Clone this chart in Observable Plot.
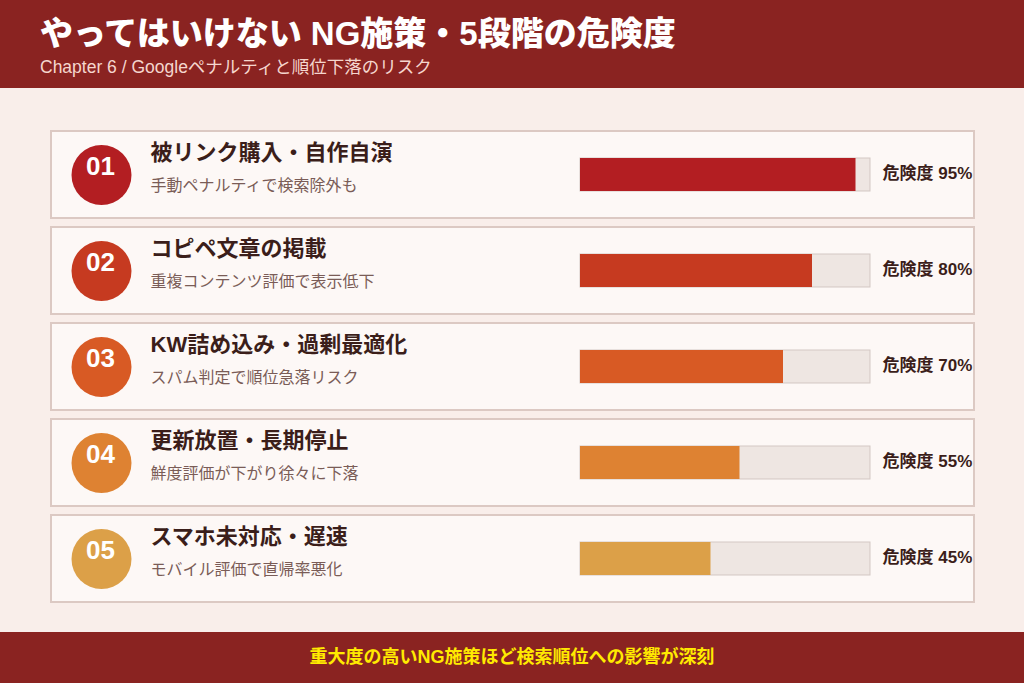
<!DOCTYPE html>
<html lang="ja">
<head>
<meta charset="utf-8">
<script src="https://cdn.jsdelivr.net/npm/d3@7"></script>
<script src="https://cdn.jsdelivr.net/npm/@observablehq/plot@0.6"></script>
<style>
  html, body { margin: 0; padding: 0; }
  body { width: 1024px; height: 683px; overflow: hidden; background: #F9EEEA;
         font-family: "Liberation Sans", "Noto Sans CJK JP", sans-serif; }
  #header { height: 88px; background: #8A2321; position: relative; }
  #header h1 { position: absolute; left: 40px; top: 14px; margin: 0; font-size: 33px; font-weight: 900;
               color: #fff; line-height: 40px; letter-spacing: 0; white-space: nowrap; }
  #header .sub { position: absolute; left: 40px; top: 57px; font-size: 17.5px; color: #F5D6CE; line-height: 20px; white-space: nowrap; }
  #chart { height: 544px; }
  #footer { height: 51px; background: #8A2321; color: #FFEA00; font-weight: 700; font-size: 18px;
            text-align: center; line-height: 50px; }
</style>
</head>
<body>
<div id="header">
  <h1>やってはいけない NG施策・5段階の危険度</h1>
  <div class="sub">Chapter 6 / Googleペナルティと順位下落のリスク</div>
</div>
<div id="chart"></div>
<div id="footer">重大度の高いNG施策ほど検索順位への影響が深刻</div>
<script>
const ids = ["01", "02", "03", "04", "05"];
const titles = ["被リンク購入・自作自演", "コピペ文章の掲載", "KW詰め込み・過剰最適化", "更新放置・長期停止", "スマホ未対応・遅速"];
const notes = ["手動ペナルティで検索除外も", "重複コンテンツ評価で表示低下", "スパム判定で順位急落リスク", "鮮度評価が下がり徐々に下落", "モバイル評価で直帰率悪化"];
const risks = [95, 80, 70, 55, 45];
const colors = ["#B31E22", "#C63A20", "#D85A24", "#DE8232", "#DCA048"];
const scaleMax = 100;

const rows = ids.map((id, i) => ({id, title: titles[i], note: notes[i], risk: risks[i], color: colors[i]}));

const font = "'Liberation Sans', 'Noto Sans CJK JP', sans-serif";
const plot = Plot.plot({
  width: 1024,
  height: 544,
  marginTop: 43,
  marginBottom: 30,
  marginLeft: 0,
  marginRight: 0,
  style: {background: "transparent", fontFamily: font},
  x: {domain: [0, scaleMax], range: [580, 870], axis: null},
  y: {type: "band", domain: ids, paddingInner: 9 / 96, paddingOuter: 0, axis: null},
  color: {type: "identity"},
  marks: [
    Plot.cell(rows, {y: "id", fill: "#FDF8F6", stroke: "#DCC9C3", strokeWidth: 2, insetLeft: 51, insetRight: 50}),
    Plot.barX(rows, {y: "id", x1: 0, x2: scaleMax, fill: "#EEE6E2", stroke: "#D3C7C3", strokeWidth: 1, insetTop: 27, insetBottom: 27}),
    Plot.barX(rows, {y: "id", x1: 0, x2: "risk", fill: "color", insetTop: 27, insetBottom: 27}),
    Plot.dot(rows, {y: "id", frameAnchor: "left", dx: 101, r: 30, fill: "color", stroke: null}),
    Plot.text(rows, {y: "id", frameAnchor: "left", dx: 100, dy: -8, text: "id", fill: "#fff",
      fontSize: 26, fontWeight: 900, textAnchor: "middle", fontFamily: font}),
    Plot.text(rows, {y: "id", frameAnchor: "left", dx: 150, dy: -22, text: "title", fill: "#3B1E1A",
      fontSize: 22, fontWeight: 700, textAnchor: "start", fontFamily: font}),
    Plot.text(rows, {y: "id", frameAnchor: "left", dx: 150, dy: 10.5, text: "note", fill: "#7A5C57",
      fontSize: 16, fontWeight: 400, textAnchor: "start", fontFamily: font}),
    Plot.text(rows, {y: "id", x: () => scaleMax, dx: 12, dy: -1, text: d => `危険度 ${d.risk}%`, fill: "#3B1E1A",
      fontSize: 17, fontWeight: 700, textAnchor: "start", fontFamily: font})
  ]
});
document.getElementById("chart").appendChild(plot);
</script>
</body>
</html>
